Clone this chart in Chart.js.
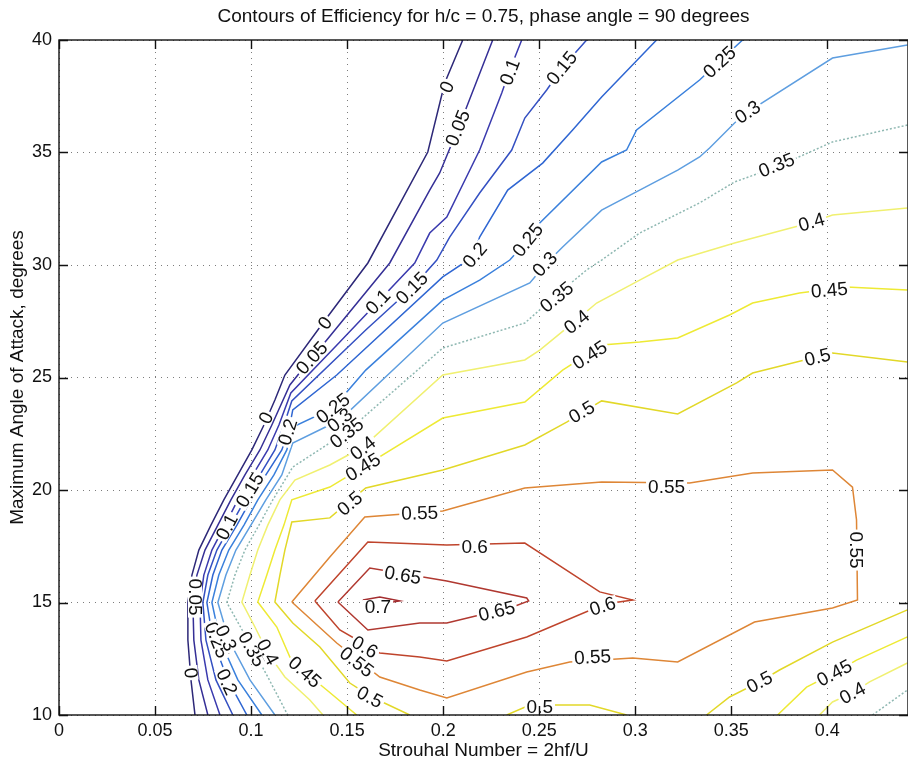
<!DOCTYPE html>
<html>
<head>
<meta charset="utf-8">
<script src="https://cdn.jsdelivr.net/npm/chart.js@4.4.0/dist/chart.umd.min.js"></script>
<style>
  html, body { margin: 0; padding: 0; background: #fff; overflow: hidden; }
  canvas { display: block; }
</style>
</head>
<body>
<canvas id="contours" width="908" height="765"></canvas>
<script>
// contour lines, [strouhal, angle] vertices
const lvl000 = [[0.2102,40],[0.2008,38.09],[0.192,35.02],[0.1608,30.09],[0.1374,27.42],[0.1176,25.11],[0.1124,24],[0.1067,22.89],[0.1004,21.78],[0.0931,20.67],[0.0858,19.56],[0.0791,18.44],[0.0728,17.33],[0.0692,16.22],[0.0671,15],[0.0671,13.33],[0.0687,11.56],[0.0708,10]];
const lvl005 = [[0.2258,40],[0.2102,36.58],[0.1982,34.09],[0.193,33.33],[0.1722,30.09],[0.1394,26.67],[0.1306,25.78],[0.1202,24.67],[0.1108,22.89],[0.1046,21.78],[0.0968,20.67],[0.0895,19.56],[0.0827,18.44],[0.076,17.33],[0.0718,16.22],[0.0697,15],[0.0702,13.33],[0.0728,11.56],[0.0775,10]];
const lvl010 = [[0.2409,40],[0.2347,38.67],[0.2305,37.64],[0.219,35.11],[0.2019,32.13],[0.193,31.42],[0.1852,30.09],[0.1655,28.31],[0.1462,26.58],[0.1207,24.31],[0.1145,22.89],[0.1087,21.78],[0.1009,20.67],[0.0931,19.56],[0.0864,18.44],[0.0796,17.33],[0.0754,16.22],[0.0734,15],[0.0739,13.33],[0.0775,11.56],[0.0838,10]];
const lvl015 = [[0.2747,40],[0.2622,38.8],[0.2539,37.78],[0.2425,36.53],[0.2357,35.11],[0.219,33.2],[0.2034,31.24],[0.1967,30.22],[0.1842,29.02],[0.1597,27.11],[0.1212,23.96],[0.1171,22.89],[0.1124,21.78],[0.1046,20.67],[0.0968,19.56],[0.0895,18.44],[0.0822,17.33],[0.0775,16.22],[0.0749,15],[0.0765,13.33],[0.0817,11.56],[0.0905,10]];
const lvl020 = [[0.3111,40],[0.2825,37.47],[0.2674,36],[0.2518,34.53],[0.2336,33.33],[0.219,31.24],[0.2154,30.36],[0.1998,29.47],[0.1446,25.11],[0.1217,23.56],[0.1197,22.67],[0.116,21.78],[0.1077,20.67],[0.0999,19.56],[0.0926,18.44],[0.0848,17.33],[0.0801,16.22],[0.077,15],[0.0801,13.33],[0.0879,11.56],[0.0978,10]];
const lvl025 = [[0.3559,40],[0.3429,38.98],[0.3335,38.22],[0.3007,36],[0.2955,35.11],[0.2825,34.58],[0.2503,31.87],[0.244,31.11],[0.2347,30.22],[0.219,29.33],[0.1998,28.44],[0.1597,25.33],[0.1426,23.64],[0.1217,22.8],[0.1186,21.78],[0.1119,20.67],[0.1035,19.56],[0.0963,18.44],[0.0884,17.33],[0.0832,16.22],[0.0796,15],[0.0838,13.33],[0.0931,11.56],[0.1056,10]];
const lvl030 = [[0.4417,39.78],[0.4027,39.2],[0.3585,36.8],[0.3517,36.31],[0.3387,35.2],[0.3335,34.8],[0.3221,34.22],[0.3023,33.33],[0.2825,32.44],[0.2622,30.8],[0.2539,30.09],[0.2451,29.2],[0.1998,27.42],[0.1462,23.11],[0.1217,22.09],[0.116,20.67],[0.1077,19.56],[0.0999,18.44],[0.0921,17.33],[0.0869,16.22],[0.0827,15],[0.0884,13.33],[0.0994,11.56],[0.1124,10]];
const lvl035 = [[0.4417,36.22],[0.4027,35.47],[0.3736,34.36],[0.3517,33.69],[0.3335,32.76],[0.3023,31.42],[0.2825,30.22],[0.2747,29.78],[0.2591,28.67],[0.2425,27.42],[0.1998,26.31],[0.1498,22.58],[0.1217,21.02],[0.1113,19.56],[0.1041,18.44],[0.0968,17.33],[0.0916,16.22],[0.0874,15],[0.0983,13.33],[0.1087,11.69],[0.1191,10]];
const lvl035b = [[0.4235,10],[0.4417,11.11]];
const lvl040 = [[0.4417,32.53],[0.4027,32.22],[0.3907,31.87],[0.3517,30.98],[0.3221,30.22],[0.3023,29.33],[0.2799,28.31],[0.2695,27.56],[0.2503,26.22],[0.2425,25.78],[0.1998,25.11],[0.1582,21.91],[0.141,21.11],[0.1228,20.44],[0.115,19.56],[0.1087,18.44],[0.1035,17.33],[0.0994,16.22],[0.0952,15.02],[0.102,13.91],[0.1087,12.76],[0.1176,11.69],[0.1306,10.67],[0.1374,10]];
const lvl040b = [[0.3959,10],[0.4027,10.58],[0.4131,10.98],[0.422,11.47],[0.4417,12.31]];
const lvl045 = [[0.4417,28.89],[0.41,29.02],[0.3855,28.76],[0.3611,28.31],[0.3491,27.78],[0.3221,26.76],[0.3023,26.58],[0.2825,26.44],[0.2622,25.33],[0.2425,23.91],[0.1998,23.2],[0.1582,21.02],[0.141,20.13],[0.1212,19.56],[0.1171,18.44],[0.1124,17.33],[0.1082,16.22],[0.1035,15.02],[0.1134,13.91],[0.1202,12.58],[0.128,11.91],[0.1394,11.11],[0.155,10]];
const lvl045b = [[0.3741,10],[0.3892,11.24],[0.4037,11.87],[0.4152,12.44],[0.4417,13.47]];
const lvl050 = [[0.4417,25.69],[0.4027,26.09],[0.3611,25.2],[0.3528,24.76],[0.3221,23.38],[0.2825,23.96],[0.2643,23.02],[0.2425,22],[0.1998,20.89],[0.1597,20.09],[0.1488,19.33],[0.141,18.76],[0.1212,18.58],[0.1176,17.33],[0.115,16.22],[0.1124,15.02],[0.1217,14.09],[0.1358,13.02],[0.1514,11.42],[0.1628,10.8],[0.1826,10]];
const lvl050b = [[0.2331,10],[0.2451,10.44],[0.2763,10.44],[0.2955,10]];
const lvl050c = [[0.3371,10],[0.3491,10.8],[0.3647,11.47],[0.3751,12],[0.4027,13.24],[0.4417,14.67]];
const lvl055 = [[0.1212,15.02],[0.141,17.02],[0.1592,18.8],[0.1998,19.07],[0.2425,20.09],[0.2825,20.36],[0.3283,20.31],[0.3611,20.76],[0.4027,20.89],[0.4131,20.13],[0.4152,18.67],[0.4157,15.11],[0.4027,14.76],[0.3621,14.13],[0.3221,12.36],[0.2987,12.53],[0.2659,12.36],[0.2435,11.91],[0.2019,10.76],[0.1878,11.11],[0.167,11.69],[0.1446,13.2],[0.1212,15.02]];
const lvl060 = [[0.1332,15.07],[0.1608,17.69],[0.2019,17.56],[0.2425,17.64],[0.2815,15.47],[0.2987,15.11],[0.2841,14.93],[0.2435,13.47],[0.2019,12.4],[0.1878,12.58],[0.167,12.76],[0.1462,13.78],[0.1332,15.07]];
const lvl065 = [[0.1452,15.02],[0.1618,16.53],[0.2019,15.96],[0.2435,15.2],[0.2445,15.07],[0.2362,14.8],[0.2019,14.09],[0.1878,14.09],[0.1608,13.78],[0.1452,15.02]];
const lvl070 = [[0.1582,15.11],[0.167,15.24],[0.1774,15.07],[0.167,14.93],[0.1582,15.11]];

// inline contour labels: text, x, y, rotation (deg)
const contourLabels = [
  ['0', 0.2019, 37.91, -67], ['0.05', 0.2076, 36.09, -68], ['0.1', 0.2347, 38.58, -69],
  ['0.15', 0.2617, 38.76, -51], ['0.25', 0.3439, 39.02, -43], ['0.3', 0.3585, 36.8, -34],
  ['0.35', 0.3736, 34.44, -22], ['0.4', 0.3918, 31.91, -16], ['0.45', 0.4011, 28.89, -5],
  ['0.5', 0.3949, 25.91, -14], ['0.2', 0.2164, 30.44, -50], ['0.25', 0.244, 31.11, -51],
  ['0.3', 0.2529, 30.04, -47], ['0.35', 0.2591, 28.58, -40], ['0.4', 0.2695, 27.47, -39],
  ['0.45', 0.2763, 26, -33], ['0.5', 0.2721, 23.47, -31], ['0.55', 0.3163, 20.13, 0],
  ['0', 0.1384, 27.42, -53], ['0.05', 0.1316, 25.87, -48], ['0.1', 0.166, 28.36, -46],
  ['0.15', 0.1837, 28.98, -45], ['0', 0.1077, 23.2, -66], ['0.2', 0.1191, 22.58, -73],
  ['0.25', 0.1426, 23.64, -38], ['0.3', 0.1462, 23.11, -39], ['0.35', 0.1498, 22.53, -38],
  ['0.4', 0.1582, 21.87, -38], ['0.45', 0.1582, 21.02, -31], ['0.5', 0.1514, 19.4, -40],
  ['0.55', 0.1878, 18.98, -2], ['0.1', 0.0874, 18.36, -62], ['0.15', 0.0994, 20, -59],
  ['0.05', 0.0708, 15.24, 90], ['0', 0.0687, 11.87, 85], ['0.25', 0.0822, 13.33, 68],
  ['0.3', 0.0869, 13.42, 65], ['0.2', 0.0874, 11.47, 65], ['0.35', 0.1004, 12.93, 61],
  ['0.4', 0.1087, 12.8, 62], ['0.45', 0.128, 11.91, 42], ['0.5', 0.1618, 10.8, 28],
  ['0.55', 0.155, 12.36, 38], ['0.6', 0.1592, 13.02, 30], ['0.65', 0.179, 16.22, 10],
  ['0.7', 0.166, 14.8, 0], ['0.6', 0.2164, 17.47, 0], ['0.65', 0.2279, 14.62, -14],
  ['0.6', 0.283, 14.84, -18], ['0.55', 0.2778, 12.58, -3], ['0.55', 0.4152, 17.33, 90],
  ['0.5', 0.2503, 10.36, 0], ['0.5', 0.3647, 11.47, -28], ['0.45', 0.4037, 11.87, -28],
  ['0.4', 0.4131, 10.98, -28]
];

const contourSets = [
  { lines: [lvl000], color: '#2d2878' },
  { lines: [lvl005], color: '#352f96' },
  { lines: [lvl010], color: '#3a3aae' },
  { lines: [lvl015], color: '#3450c2' },
  { lines: [lvl020], color: '#2f66d2' },
  { lines: [lvl025], color: '#3a80dc' },
  { lines: [lvl030], color: '#5e9ee0' },
  { lines: [lvl035, lvl035b], color: '#8fb8b2', dash: [2, 2] },
  { lines: [lvl040, lvl040b], color: '#f0f070' },
  { lines: [lvl045, lvl045b], color: '#eeea34' },
  { lines: [lvl050, lvl050b, lvl050c], color: '#e2d828' },
  { lines: [lvl055], color: '#de8636' },
  { lines: [lvl060], color: '#bf442c' },
  { lines: [lvl065], color: '#b03830' },
  { lines: [lvl070], color: '#a42e30' }
];

const FONT = '"Liberation Sans", Arial, Helvetica, sans-serif';
const datasets = [];
contourSets.forEach(set => {
  set.lines.forEach(pts => {
    datasets.push({
      data: pts.map(p => ({ x: p[0], y: p[1] })),
      showLine: true,
      borderColor: set.color,
      borderWidth: 1.5,
      borderDash: set.dash || [],
      pointRadius: 0,
      tension: 0
    });
  });
});

// labels on the lines, frame with inward ticks, titles
const decorations = {
  id: 'decorations',
  afterDatasetsDraw(chart) {
    const { ctx, scales: { x, y } } = chart;
    ctx.save();
    ctx.font = '19px ' + FONT;
    ctx.textAlign = 'center';
    ctx.textBaseline = 'middle';
    contourLabels.forEach(([txt, lx, ly, ang]) => {
      ctx.save();
      ctx.translate(x.getPixelForValue(lx), y.getPixelForValue(ly));
      ctx.rotate(ang * Math.PI / 180);
      const w = ctx.measureText(txt).width;
      ctx.fillStyle = '#fff';
      ctx.fillRect(-w / 2 - 2, -7, w + 4, 14);
      ctx.fillStyle = '#111';
      ctx.fillText(txt, 0, 1);
      ctx.restore();
    });
    ctx.restore();
  },
  afterDraw(chart) {
    const { ctx, chartArea: a, scales: { x, y } } = chart;
    ctx.save();
    ctx.strokeStyle = '#111';
    ctx.lineWidth = 1.4;
    ctx.strokeRect(a.left, a.top, a.right - a.left, a.bottom - a.top);
    ctx.beginPath();
    x.ticks.forEach(t => {
      const px = Math.round(x.getPixelForValue(t.value)) + 0.5;
      ctx.moveTo(px, a.bottom); ctx.lineTo(px, a.bottom - 9);
      ctx.moveTo(px, a.top); ctx.lineTo(px, a.top + 9);
    });
    y.ticks.forEach(t => {
      const py = Math.round(y.getPixelForValue(t.value)) + 0.5;
      ctx.moveTo(a.left, py); ctx.lineTo(a.left + 9, py);
      ctx.moveTo(a.right, py); ctx.lineTo(a.right - 9, py);
    });
    ctx.stroke();

    ctx.fillStyle = '#111';
    ctx.font = '19px ' + FONT;
    ctx.textAlign = 'center';
    ctx.textBaseline = 'middle';
    const cx = (a.left + a.right) / 2;
    ctx.fillText('Contours of Efficiency for h/c = 0.75, phase angle = 90 degrees', cx, 17);
    ctx.fillText('Strouhal Number = 2hf/U', cx, 751);
    ctx.translate(18, (a.top + a.bottom) / 2);
    ctx.rotate(-Math.PI / 2);
    ctx.fillText('Maximum Angle of Attack, degrees', 0, 0);
    ctx.restore();
  }
};

new Chart(document.getElementById('contours'), {
  type: 'scatter',
  data: { datasets: datasets },
  options: {
    responsive: false,
    devicePixelRatio: 1,
    animation: false,
    layout: { padding: { top: 40, right: 0, bottom: 0, left: 0 } },
    plugins: {
      legend: { display: false },
      tooltip: { enabled: false }
    },
    scales: {
      x: {
        type: 'linear',
        min: 0,
        max: 0.442,
        afterFit: s => { s.height = 50; },
        ticks: {
          stepSize: 0.05,
          includeBounds: false,
          padding: 5,
          color: '#111',
          font: { size: 18, family: FONT },
          maxRotation: 0,
          callback: v => String(+v.toFixed(2))
        },
        grid: { color: 'rgba(80,80,80,0.75)', lineWidth: 1, drawTicks: false },
        border: { display: false, dash: [1, 5] }
      },
      y: {
        type: 'linear',
        min: 10,
        max: 40,
        afterFit: s => { s.width = 59; },
        ticks: {
          stepSize: 5,
          padding: 7,
          color: '#111',
          font: { size: 18, family: FONT }
        },
        grid: { color: 'rgba(80,80,80,0.75)', lineWidth: 1, drawTicks: false },
        border: { display: false, dash: [1, 5] }
      }
    }
  },
  plugins: [decorations]
});
</script>
</body>
</html>
